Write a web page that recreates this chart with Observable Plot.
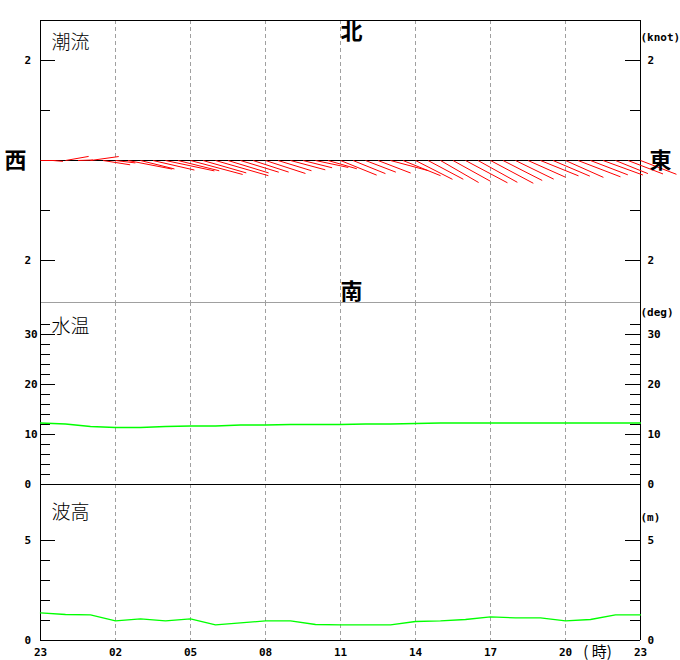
<!DOCTYPE html>
<html><head><meta charset="utf-8">
<script src="https://cdn.jsdelivr.net/npm/d3@7"></script>
<script src="https://cdn.jsdelivr.net/npm/@observablehq/plot@0.6"></script>
<style>
body{margin:0;background:#fff;}
#chart{width:680px;height:660px;}
#chart svg{display:block;overflow:visible;background:transparent;}
</style></head><body><div id="chart"></div>
<script>
// x axis: hours since 23:00
const hourTicks = [0, 3, 6, 9, 12, 15, 18, 21, 24];
const hourLabels = ["23", "02", "05", "08", "11", "14", "17", "20", "23"];
const gridHours = [3, 6, 9, 12, 15, 18, 21];

// hourly series (23:00 .. 23:00)
const hours = [0,1,2,3,4,5,6,7,8,9,10,11,12,13,14,15,16,17,18,19,20,21,22,23,24];
const waterTemp = [12.3,12.1,11.6,11.4,11.4,11.6,11.7,11.7,11.9,11.9,12.0,12.0,12.0,12.1,12.1,12.2,12.3,12.3,12.3,12.3,12.3,12.3,12.3,12.3,12.3];
const waveHeight = [1.38,1.30,1.28,0.98,1.08,0.98,1.08,0.78,0.88,0.98,0.98,0.80,0.78,0.78,0.78,0.95,0.98,1.05,1.18,1.13,1.13,0.98,1.05,1.28,1.28];

// tidal current every 30 min: speed (knot), direction toward (deg, clockwise from north)
const currentTime = [0,0.5,1,1.5,2,2.5,3,3.5,4,4.5,5,5.5,6,6.5,7,7.5,8,8.5,9,9.5,10,10.5,11,11.5,12,12.5,13,13.5,14,14.5,15,15.5,16,16.5,17,17.5,18,18.5,19,19.5,20,20.5,21,21.5,22,22.5,23,23.5,24];
const currentSpeed = [0.30,0.20,0.47,0.30,0.57,0.55,0.40,0.90,0.70,0.85,1.00,0.85,1.08,0.90,1.10,0.85,0.80,0.75,0.84,0.70,0.72,0.60,0.67,0.60,0.78,0.70,0.65,0.70,0.78,0.81,0.83,0.80,0.88,0.85,0.95,0.90,0.97,0.88,0.85,0.82,0.82,0.80,0.83,0.91,0.80,0.85,0.70,0.75,0.77];
const currentDir = [90,95,80,88,82,99,97,101,104,103,102,104,105,106,106,107,107,108,108,107,105,104,102,106,112,112,111,111,105,112,117,118,120,119,118,119,118,117,116,114,112,113,114,111,111,110,112,111,111];

// axis ticks
const kLong = [2, -2], kShort = [1, -1];
const tLong = [10, 20, 30], tShort = [2,4,6,8,12,14,16,18,22,24,26,28,32];
const wLong = [5], wShort = [1, 2, 3, 4];

const W = 680, ML = 40, MR = 40;
const GRID = "#a0a0a0";
const MONO = "DejaVu Sans Mono";
const CJK = "Noto Sans CJK JP";

// panel 1 scale: domain [-2.84, 2.8] knots on 282 px, x 24 h on 600 px
const kDomain = [-2.84, 2.8];
const p1Top = 20, p1H = 302;
const pxPerKnot = (p1H - p1Top) / (kDomain[1] - kDomain[0]);
const pxPerHour = (W - ML - MR) / 24;
const hoursPerKnot = pxPerKnot / pxPerHour;

const currents = currentTime.map((t, i) => {
  const a = currentDir[i] * Math.PI / 180;
  return {t, x2: t + hoursPerKnot * currentSpeed[i] * Math.sin(a), y2: currentSpeed[i] * Math.cos(a)};
});

const tickMarks = (long, short) => [
  Plot.ruleY(long, {x1: 0, x2: 0.6, stroke: "black"}),
  Plot.ruleY(short, {x1: 0, x2: 0.4, stroke: "black"}),
  Plot.ruleY(long, {x1: 23.4, x2: 24, stroke: "black"}),
  Plot.ruleY(short, {x1: 23.6, x2: 24, stroke: "black"})
];
const monoStyle = {fontFamily: MONO, fontWeight: "bold", fontSize: 11, fill: "black", lineAnchor: "middle"};
const tickText = (vals, labels) => [
  Plot.text(vals, {y: d => d, text: (d, i) => labels[i], frameAnchor: "left", dx: -16, textAnchor: "start", ...monoStyle}),
  Plot.text(vals, {y: d => d, text: (d, i) => labels[i], frameAnchor: "right", dx: 7, textAnchor: "start", ...monoStyle})
];
const grid = Plot.ruleX(gridHours, {stroke: GRID, strokeDasharray: "4,3"});
const sides = Plot.ruleX([0, 24], {stroke: "black"});
const unitText = (t, dy) => Plot.text([t], {text: d => d, frameAnchor: "top-right", dy, textAnchor: "start", ...monoStyle});
const titleText = (t, dy) => Plot.text([t], {text: d => d, frameAnchor: "top-left", dx: 11, dy, textAnchor: "start", lineAnchor: "middle", fontFamily: CJK, fontWeight: 300, fontSize: 19, fill: "black"});
const compass = (t, opts) => Plot.text([t], {text: d => d, textAnchor: "middle", lineAnchor: "middle", fontFamily: CJK, fontWeight: "bold", fontSize: 22, fill: "black", ...opts});

const common = {width: W, marginLeft: ML, marginRight: MR, x: {domain: [0, 24], axis: null}, style: {background: "transparent", overflow: "visible"}};

const p1 = Plot.plot({
  ...common, height: p1H, marginTop: p1Top, marginBottom: 0,
  y: {domain: kDomain, axis: null},
  marks: [
    grid,
    Plot.ruleY([kDomain[1]], {stroke: "black"}),
    sides,
    Plot.ruleY([0], {stroke: "black"}),
    ...tickMarks(kLong, kShort),
    ...tickText(kLong, ["2", "2"]),
    Plot.link(currents, {x1: "t", y1: () => 0, x2: "x2", y2: "y2", stroke: "#ff0000", strokeWidth: 1}),
    titleText("潮流", 22),
    unitText("(knot)", 17),
    compass("北", {frameAnchor: "top", dx: 11, dy: 11}),
    compass("南", {frameAnchor: "bottom", dx: 11, dy: -11}),
    compass("西", {y: () => 0, frameAnchor: "left", dx: -25}),
    compass("東", {y: () => 0, frameAnchor: "right", dx: 20})
  ]
});

const tDomain = [0, 36.4];
const p2 = Plot.plot({
  ...common, height: 182, marginTop: 0, marginBottom: 0,
  y: {domain: tDomain, axis: null},
  marks: [
    grid,
    Plot.ruleY([tDomain[1]], {stroke: GRID}),
    sides,
    ...tickMarks(tLong, tShort),
    ...tickText([30, 20, 10, 0], ["30", "20", "10", "0"]),
    Plot.line(hours, {x: d => d, y: (d, i) => waterTemp[i], stroke: "#00ff00", strokeWidth: 1.3}),
    titleText("水温", 24),
    unitText("(deg)", 10)
  ]
});

const wDomain = [0, 7.8];
const p3 = Plot.plot({
  ...common, height: 176, marginTop: 0, marginBottom: 20,
  y: {domain: wDomain, axis: null},
  marks: [
    grid,
    Plot.ruleY([wDomain[1]], {stroke: "black"}),
    Plot.ruleY([0], {stroke: "black"}),
    sides,
    ...tickMarks(wLong, wShort),
    ...tickText([5, 0], ["5", "0"]),
    Plot.line(hours, {x: d => d, y: (d, i) => waveHeight[i], stroke: "#00ff00", strokeWidth: 1.3}),
    titleText("波高", 28),
    unitText("(m)", 33),
    Plot.text(hourTicks, {x: d => d, text: (d, i) => hourLabels[i], frameAnchor: "bottom", dy: 12, ...monoStyle}),
    Plot.text(["( 時)"], {x: () => 21, text: d => d, frameAnchor: "bottom", dx: 32, dy: 12, lineAnchor: "middle", fontFamily: CJK, fontSize: 15, fill: "black"})
  ]
});

const c = document.getElementById("chart");
c.append(p1, p2, p3);
</script></body></html>
